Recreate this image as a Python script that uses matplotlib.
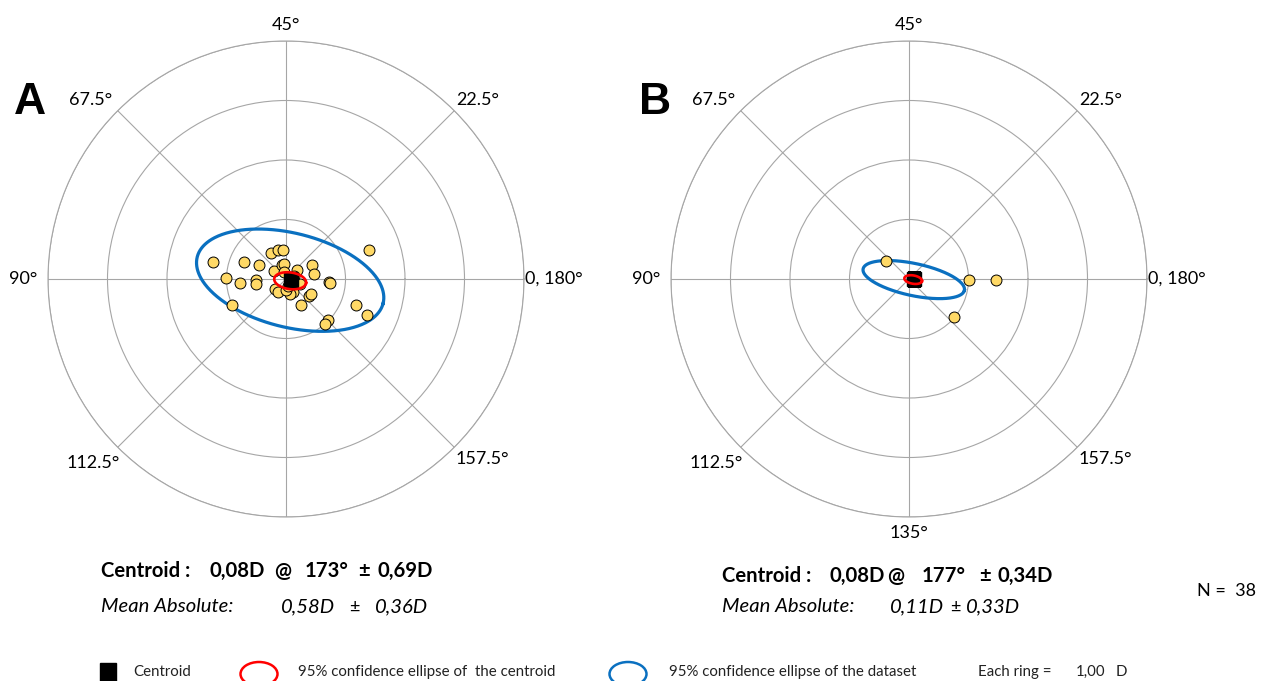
import numpy as np
import matplotlib
matplotlib.use("Agg")
import matplotlib.pyplot as plt
from matplotlib.patches import Rectangle, Ellipse

W, H = 1261, 681
FONT = ["Lato", "DejaVu Sans"]

# ---------------- data (double-angle vector components, dioptres) -------------
a_x = [-1.22, -0.71, -0.45, -0.25, -0.14, -0.05, -0.21, -0.06, -0.03, -1.01,
       -0.77, -0.51, -0.51, -0.18, -0.14, -0.91, 1.40, 0.19, 0.43, 0.47,
       0.73, 0.74, 0.24, 0.12, 0.07, 0.39, 0.42, 0.25, 1.18, 1.36,
       0.71, 0.66, -0.03, 0.00, 0.10, 0.07, 0.13, 0.03]
a_y = [0.29, 0.28, 0.23, 0.43, 0.48, 0.48, 0.13, 0.23, 0.25, 0.01,
       -0.06, -0.02, -0.09, -0.16, -0.22, -0.44, 0.48, 0.15, 0.23, 0.09,
       -0.05, -0.07, -0.08, -0.22, -0.25, -0.29, -0.26, -0.43, -0.43, -0.60,
       -0.69, -0.75, 0.11, -0.19, 0.01, -0.07, 0.05, -0.12]

b_x = [-0.39, 1.00, 1.47, 0.76, 0.05, 0.10, 0.08, 0.12]
b_y = [0.31, -0.01, -0.01, -0.64, 0.00, -0.02, 0.01, -0.01]

centroid_mag = [0.08, 0.08]          # D
centroid_axis = [173, 177]           # degrees
centroid_sd = [0.69, 0.34]
mean_abs = [0.58, 0.11]
mean_abs_sd = [0.36, 0.33]
n_eyes = 38

# 95% ellipses: centre x, centre y, semi-major, semi-minor, angle (deg)
data_ell_A = [0.07, -0.02, 1.61, 0.79, -14]
cent_ell_A = [0.07, -0.03, 0.27, 0.14, -8]
data_ell_B = [0.08, -0.01, 0.87, 0.27, -12]
cent_ell_B = [0.07, -0.01, 0.15, 0.07, -10]

angle_labels = ["0, 180°", "22.5°", "45°", "67.5°", "90°", "112.5°", "135°", "157.5°"]
ring_max = 4
ring_step = 1.00

# ---------------------------------------------------------------------------
fig = plt.figure(figsize=(W / 100, H / 100), dpi=100)
fig.patch.set_facecolor("white")

GRID = "#a6a6a6"
YELLOW = "#FFD966"
BLUE = "#0A70C0"
RED = "#FF0000"


def ellipse_curve(p):
    cx, cy, a, b, ang = p
    t = np.linspace(0, 2 * np.pi, 500)
    phi = np.deg2rad(ang)
    ex = cx + a * np.cos(t) * np.cos(phi) - b * np.sin(t) * np.sin(phi)
    ey = cy + a * np.cos(t) * np.sin(phi) + b * np.sin(t) * np.cos(phi)
    th = np.unwrap(np.arctan2(ey, ex))
    return th, np.hypot(ex, ey)


# label placement (pixel offsets from panel centre)
LABEL_POS = [
    (239, 0, "left"),
    (192, 179, "center"),
    (0, 254, "center"),
    (-195, 179, "center"),
    (-249, 0, "right"),
    (-193, -184, "center"),
    (0, -254, "center"),
    (196, -180, "center"),
]


def panel(cx_px, xs, ys, cmag, caxis, dell, cell, show_bottom):
    R = 238
    cy_px = 279
    ax = fig.add_axes([(cx_px - R) / W, (H - cy_px - R) / H, 2 * R / W, 2 * R / H],
                      projection="polar")
    ax.set_ylim(0, ring_max)
    ax.set_rticks(np.arange(1, ring_max + 1) * ring_step)
    ax.set_yticklabels([])
    ax.set_thetagrids(np.arange(0, 360, 45), labels=[""] * 8)
    ax.grid(True, color=GRID, lw=0.8)
    ax.spines["polar"].set_color(GRID)
    ax.spines["polar"].set_linewidth(0.8)
    ax.set_facecolor("none")

    th, r = ellipse_curve(dell)
    ax.plot(th, r, color=BLUE, lw=2.3, zorder=2)

    xs = np.array(xs); ys = np.array(ys)
    ax.scatter(np.arctan2(ys, xs), np.hypot(xs, ys), s=62, c=YELLOW,
               edgecolors="black", linewidths=0.7, zorder=3)

    ax.plot([np.deg2rad(2 * caxis)], [cmag], marker="s", ms=10,
            color="black", zorder=4)
    th, r = ellipse_curve(cell)
    ax.plot(th, r, color=RED, lw=1.9, zorder=5)

    px = R / ring_max
    for i, lab in enumerate(angle_labels):
        if i == 6 and not show_bottom:
            continue
        dx, dy, ha = LABEL_POS[i]
        ax.text(np.arctan2(dy, dx), np.hypot(dx, dy) / px, lab, ha=ha, va="center",
                fontsize=13, family=FONT, clip_on=False)
    return ax


panel(286, a_x, a_y, centroid_mag[0], centroid_axis[0], data_ell_A, cent_ell_A, False)
panel(909, b_x, b_y, centroid_mag[1], centroid_axis[1], data_ell_B, cent_ell_B, True)


def ftext(x, y, s, **kw):
    kw.setdefault("family", FONT)
    fig.text(x / W, 1 - y / H, s, va="center", ha="left", **kw)


ftext(14, 102, "A", fontsize=32, weight="bold", family=["Liberation Sans"])
ftext(639, 102, "B", fontsize=32, weight="bold", family=["Liberation Sans"])


def fmt(v):
    return f"{v:.2f}".replace(".", ",") + "D"


def stats_block(x0, xs, i):
    y1, y2 = (571, 607) if i == 0 else (576, 607)
    fb, fi = 14.6, 14.6
    ftext(x0, y1, "Centroid :", fontsize=fb, weight="bold")
    ftext(xs[0], y1, fmt(centroid_mag[i]), fontsize=fb, weight="bold")
    ftext(xs[1], y1, "@", fontsize=fb, weight="bold")
    ftext(xs[2], y1, f"{centroid_axis[i]}°", fontsize=fb, weight="bold")
    ftext(xs[3], y1, "±", fontsize=fb, weight="bold")
    ftext(xs[4], y1, fmt(centroid_sd[i]), fontsize=fb, weight="bold")
    ftext(x0, y2, "Mean Absolute:", fontsize=fi, style="italic")
    ftext(xs[5], y2, fmt(mean_abs[i]), fontsize=fi, style="italic")
    ftext(xs[6], y2, "±", fontsize=fi - 1.5)
    ftext(xs[7], y2, fmt(mean_abs_sd[i]), fontsize=fi, style="italic")


stats_block(101, [209, 274, 305, 358, 377, 281, 349, 375], 0)
stats_block(722, [830, 887, 922, 979, 998, 890, 950, 966], 1)
ftext(1197, 591, f"N =  {n_eyes}", fontsize=13)

# legend row
LEG_Y = 672
LC = "#222222"
LF = 10.8
fig.add_artist(Rectangle((100 / W, 0), 16 / W, 18 / H, transform=fig.transFigure,
                         color="black"))
ftext(133, LEG_Y, "Centroid", fontsize=LF, color=LC)
fig.add_artist(Ellipse((259 / W, (H - 674) / H), 37 / W, 24 / H, transform=fig.transFigure,
                       fill=False, edgecolor=RED, lw=1.8))
ftext(298, LEG_Y, "95% confidence ellipse of  the centroid", fontsize=LF, color=LC)
fig.add_artist(Ellipse((628 / W, (H - 674) / H), 37 / W, 24 / H, transform=fig.transFigure,
                       fill=False, edgecolor=BLUE, lw=1.8))
ftext(669, LEG_Y, "95% confidence ellipse of the dataset", fontsize=LF, color=LC)
ftext(978, LEG_Y, "Each ring =", fontsize=LF, color=LC)
ftext(1076, LEG_Y, f"{ring_step:.2f}".replace(".", ","), fontsize=LF, color=LC)
ftext(1116, LEG_Y, "D", fontsize=LF, color=LC)

fig.savefig("out.png", dpi=100, facecolor="white")
